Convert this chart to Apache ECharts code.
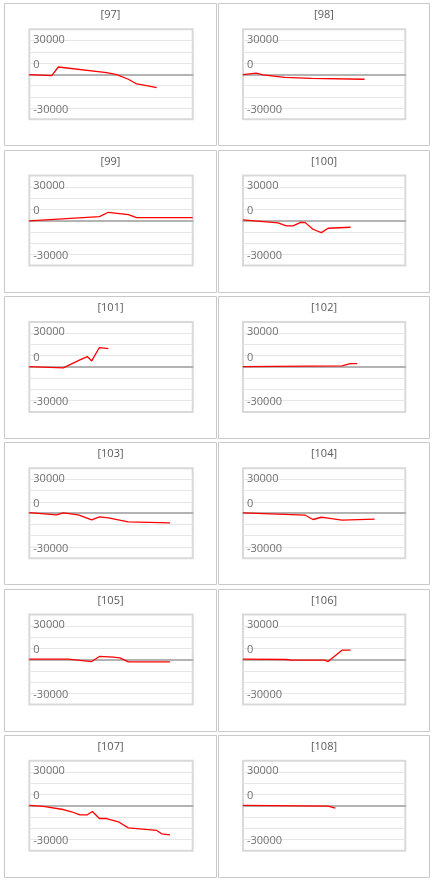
<!DOCTYPE html>
<html>
<head>
<meta charset="utf-8">
<script src="https://cdn.jsdelivr.net/npm/echarts@6/dist/echarts.min.js"></script>
<style>
html,body{margin:0;padding:0;background:#fff;}
#c{width:440px;height:881px;}
</style>
</head>
<body>
<div id="c"></div>
<script>
// Panel titles
const titles = ['[97]', '[98]', '[99]', '[100]', '[101]', '[102]', '[103]', '[104]', '[105]', '[106]', '[107]', '[108]'];
// Y tick labels shown
const yTickLabels = [30000, 0, -30000];

// Series values (x = position along the period, 0..100; y = value)
const x97  = [0, 13.7, 17.8, 47.3, 53.5, 60.6, 65.7, 71.8, 78.0];
const y97  = [-300, -1200, 6500, 1500, -300, -4400, -8600, -10000, -11900];
const x98  = [0, 8.2, 12.3, 25.7, 42.1, 74.9];
const y98  = [-300, 1000, -600, -2700, -3600, -4400];
const x99  = [0, 42.9, 48.4, 60.6, 65.7, 100];
const y99  = [-300, 3600, 7400, 5300, 2700, 2700];
const x100 = [0, 21.6, 26.7, 30.8, 35.5, 38.4, 43.1, 48.3, 52.4, 66.3];
const y100 = [600, -2100, -4700, -4700, -1500, -1800, -7700, -10700, -6800, -5900];
const x101 = [0, 20.8, 31.0, 35.5, 38.2, 42.9, 48.4];
const y101 = [300, -900, 6200, 9200, 5300, 17200, 16300];
const x102 = [0, 61.0, 66.1, 70.4];
const y102 = [300, 900, 3000, 3000];
const x103 = [0, 16.7, 20.8, 30.0, 38.2, 42.9, 48.4, 60.6, 86.1];
const y103 = [600, -1500, 300, -1500, -5900, -3300, -4100, -7700, -8600];
const x104 = [0, 38.4, 43.1, 48.3, 52.4, 61.0, 81.1];
const y104 = [300, -1800, -5600, -3600, -4400, -6200, -5300];
const x105 = [0, 23.9, 38.2, 42.9, 51.4, 55.5, 60.6, 86.1];
const y105 = [300, 300, -1800, 2700, 2100, 1500, -2100, -2100];
const x106 = [0, 26.7, 29.8, 50.3, 52.4, 61.0, 66.3];
const y106 = [300, 0, -600, -600, -1800, 8300, 8300];
const x107 = [0, 8.6, 20.8, 25.9, 31.0, 35.5, 38.6, 42.9, 47.3, 54.5, 60.6, 78.0, 81.0, 86.1];
const y107 = [300, -600, -3300, -5300, -8000, -8000, -5000, -11300, -11300, -14200, -19600, -21900, -24900, -25800];
const x108 = [0, 52.4, 56.9];
const y108 = [300, -300, -2100];

const xsList = [x97, x98, x99, x100, x101, x102, x103, x104, x105, x106, x107, x108];
const ysList = [y97, y98, y99, y100, y101, y102, y103, y104, y105, y106, y107, y108];

const FONT = '"Open Sans", "DejaVu Sans", sans-serif';
const grids = [], xAxes = [], yAxes = [], series = [], graphics = [];

for (let i = 0; i < 12; i++) {
  const row = Math.floor(i / 2), col = i % 2;
  const pt = 3.3 + row * 146.3;
  const panelLeft = col === 0 ? 4 : 218;
  const panelW = col === 0 ? 212 : 211;
  const plotLeft = col === 0 ? 29.3 : 243;
  const plotW = col === 0 ? 163.4 : 162.3;
  const plotTop = pt + 26;

  graphics.push({
    type: 'rect', silent: true,
    shape: { x: panelLeft + 0.5, y: Math.round(pt) + 0.5, width: panelW, height: 142 },
    style: { fill: null, stroke: '#c9c9c9', lineWidth: 1 }
  });
  graphics.push({
    type: 'text', silent: true,
    x: panelLeft + panelW / 2 + 0.5, y: pt + 12,
    style: { text: titles[i], align: 'center', verticalAlign: 'middle',
             fill: '#595959', font: '11px ' + FONT }
  });

  grids.push({
    left: plotLeft, top: plotTop, width: plotW, height: 90,
    show: true, borderColor: '#d9d9d9', borderWidth: 2, backgroundColor: 'transparent'
  });
  xAxes.push({
    type: 'value', gridIndex: i, min: 0, max: 100,
    axisLabel: { show: false }, axisTick: { show: false }, splitLine: { show: false },
    axisLine: { show: true, onZero: true, lineStyle: { color: '#b3b3b3', width: 2 } }
  });
  yAxes.push({
    type: 'value', gridIndex: i, min: -40000, max: 40000, interval: 10000,
    axisLine: { show: false }, axisTick: { show: false },
    splitLine: { show: true, showMinLine: false, showMaxLine: false,
                 lineStyle: { color: '#e6e6e6', width: 1 } },
    axisLabel: {
      inside: true, margin: 4, color: '#707070', fontSize: 11, fontFamily: FONT,
      formatter: function (v) {
        if (yTickLabels.indexOf(v) < 0) return '';
        if (v === 0) return '{z|0}';
        if (v > 0) return '{a|' + v + '}';
        return '{n|' + v + '}';
      },
      rich: {
        a: { padding: [0, 0, 2, 0], color: '#707070', fontSize: 11, fontFamily: FONT },
        z: { padding: [0, 0, 19, 0], color: '#707070', fontSize: 11, fontFamily: FONT },
        n: { padding: [3, 0, 0, 0], color: '#707070', fontSize: 11, fontFamily: FONT }
      }
    }
  });
  const xs = xsList[i], ys = ysList[i];
  series.push({
    type: 'line', xAxisIndex: i, yAxisIndex: i,
    data: xs.map((x, k) => [x, ys[k]]),
    symbol: 'none', lineStyle: { color: '#ff0000', width: 1.3 },
    itemStyle: { color: '#ff0000' }, animation: false, silent: true
  });
}

const chart = echarts.init(document.getElementById('c'), null, { renderer: 'canvas' });
chart.setOption({
  animation: false,
  backgroundColor: '#ffffff',
  grid: grids, xAxis: xAxes, yAxis: yAxes, series: series,
  graphic: { elements: graphics }
});
</script>
</body>
</html>
